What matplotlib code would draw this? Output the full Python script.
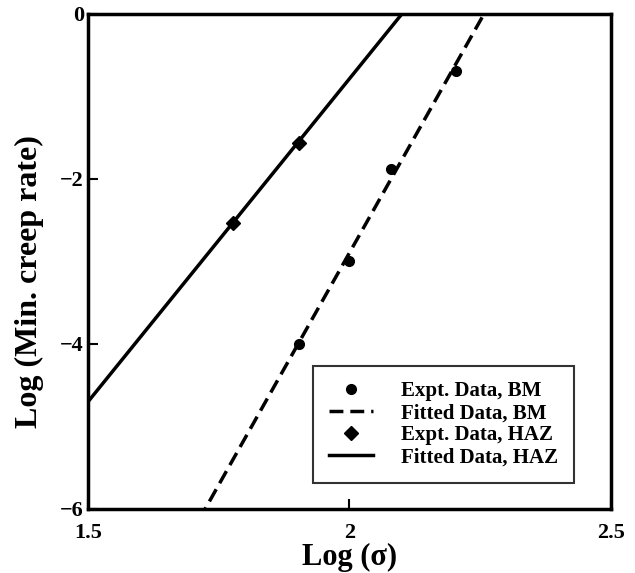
import matplotlib
matplotlib.use("Agg")
import matplotlib.pyplot as plt
import numpy as np

plt.rcParams['font.family'] = ['Liberation Serif', 'DejaVu Serif']
plt.rcParams['font.weight'] = 'bold'

# experimental data
bm_x = [1.903, 2.000, 2.079, 2.204]
bm_y = [-4.00, -2.99, -1.88, -0.69]
haz_x = [1.778, 1.903]
haz_y = [-2.53, -1.56]

# fitted lines (slope, intercept)
bm_fit = (11.25, -25.395)
haz_fit = (7.83, -16.445)

fig = plt.figure(figsize=(6.35, 5.73), dpi=100)
ax = fig.add_axes([0.1386, 0.1117, 0.8234, 0.8639])

xx = np.linspace(1.5, 2.5, 200)
ax.plot(bm_x, bm_y, 'o', color='black', markersize=7, label='Expt. Data, BM', zorder=3)
ax.plot(xx, bm_fit[0] * xx + bm_fit[1], color='black', lw=2.5,
        dashes=(4, 2), label='Fitted Data, BM')
ax.plot(haz_x, haz_y, 'D', color='black', markersize=7, label='Expt. Data, HAZ', zorder=3)
ax.plot(xx, haz_fit[0] * xx + haz_fit[1], color='black', lw=2.5,
        label='Fitted Data, HAZ')

ax.set_xlim(1.5, 2.5)
ax.set_ylim(-6, 0)
ax.set_xticks([1.5, 2, 2.5])
ax.set_xticklabels(['1.5', '2', '2.5'])
ax.set_yticks([-6, -4, -2, 0])
ax.set_yticklabels(['\u22126', '\u22124', '\u22122', '0'])
ax.tick_params(direction='in', length=7, width=1.5, labelsize=16, pad=3)
ax.tick_params(axis='x', pad=10)

for s in ax.spines.values():
    s.set_linewidth(2.5)

ax.set_xlabel('Log (\u03c3)', fontsize=22, fontweight='bold', labelpad=0)
ax.set_ylabel('Log (Min. creep rate)', fontsize=23, fontweight='bold')
ax.yaxis.set_label_coords(-0.084, 0.4586)

leg = ax.legend(loc='lower right', bbox_to_anchor=(0.929, 0.0525), fontsize=15,
                frameon=True, fancybox=False, edgecolor='black',
                handlelength=2.1, handletextpad=1.35, borderpad=0.75,
                borderaxespad=0, labelspacing=0.1)
leg.get_frame().set_linewidth(1.5)

fig.savefig('out.png', dpi=100)
